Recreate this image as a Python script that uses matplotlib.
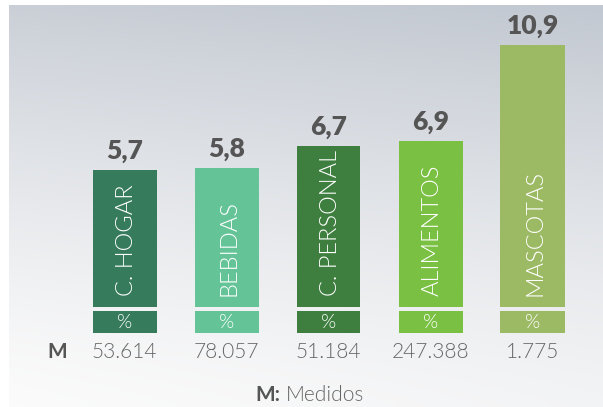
import numpy as np
import matplotlib
matplotlib.use('Agg')
import matplotlib.pyplot as plt
from matplotlib.colors import LinearSegmentedColormap

# Datos
categorias = ['C. HOGAR', 'BEBIDAS', 'C. PERSONAL', 'ALIMENTOS', 'MASCOTAS']
valores = [5.7, 5.8, 6.7, 6.9, 10.9]
etiquetas_valor = ['5,7', '5,8', '6,7', '6,9', '10,9']
medidos = ['53.614', '78.057', '51.184', '247.388', '1.775']
colores = ['#367b5c', '#64c497', '#3e7f3f', '#7ac143', '#9cba64']

W, H = 603, 407
fig = plt.figure(figsize=(W / 100, H / 100), dpi=100)

# fondo degradado
bg = fig.add_axes([9 / W, 0, 1 - 9 / W, 1 - 5 / H])
u = np.linspace(0, 1, 200)[:, None]   # 0 arriba
v = np.linspace(0, 1, 300)[None, :]   # 0 izquierda
s = np.clip((1 - u) ** 1.3 * 0.85 + v * 0.15, 0, 1)
cmap = LinearSegmentedColormap.from_list('fondo', ['#fbfbfb', '#c2c8d1'])
bg.imshow(s, cmap=cmap, aspect='auto', extent=[0, 1, 0, 1], vmin=0, vmax=1)
bg.axis('off')

ax = fig.add_axes([0, 0, 1, 1])
ax.patch.set_alpha(0)
esc = 24.0
x0, paso = 124.5, 102.0
ax.set_xlim(-x0 / paso, (W - x0) / paso)
ax.set_ylim(-100 / esc, (H - 100) / esc)
ax.axis('off')

x = np.arange(len(categorias))
ancho = 64 / paso
ax.bar(x, valores, width=ancho, color=colores)

fuente = 'Lato'
for i in x:
    ax.text(i, valores[i] + 0.3, etiquetas_valor[i], ha='center', va='bottom',
            fontsize=19, fontweight='heavy', color='#555555', family=fuente)
    ax.text(i + 0.02, 0.45, categorias[i], rotation=90, ha='center', va='bottom',
            fontsize=17, fontweight=300, color='white', family=fuente)
    ax.text(i, -1.87, medidos[i], ha='center', va='center',
            fontsize=15, fontweight=300, color='#666666', family=fuente)

# cajas de %
ax.bar(x, -0.92, bottom=-0.17, width=ancho, color=colores)
for i in x:
    ax.text(i, -0.63, '%', ha='center', va='center', fontsize=14,
            fontweight=300, color='white', family=fuente)

fig.text(57 / W, 1 - 352 / H, 'M', ha='center', va='center', fontsize=15,
         fontweight='bold', color='#555555', family=fuente)
fig.text(280 / W, 1 - 395 / H, 'M:', ha='right', va='center', fontsize=15,
         fontweight='bold', color='#555555', family=fuente)
fig.text(286 / W, 1 - 395 / H, 'Medidos', ha='left', va='center', fontsize=15,
         fontweight=300, color='#666666', family=fuente)

fig.savefig('out.png', dpi=100)
